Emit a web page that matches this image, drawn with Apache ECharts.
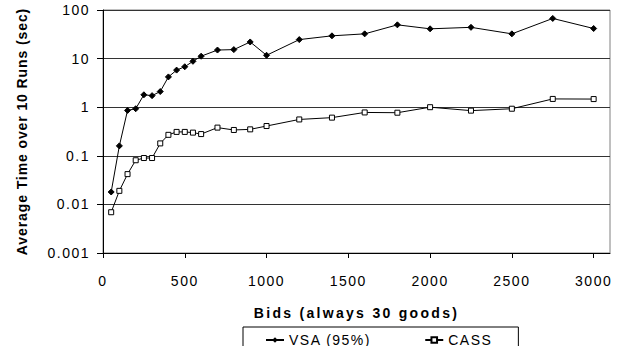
<!DOCTYPE html>
<html>
<head>
<meta charset="utf-8">
<script src="https://cdn.jsdelivr.net/npm/echarts@6/dist/echarts.min.js"></script>
<style>
html,body{margin:0;padding:0;background:#fff;}
#chart{width:621px;height:346px;}
</style>
</head>
<body>
<div id="chart"></div>
<script>
const bids = [50,100,150,200,250,300,350,400,450,500,550,600,700,800,900,1000,1200,1400,1600,1800,2000,2250,2500,2750,3000];
const vsa  = [0.018,0.16,0.86,0.93,1.8,1.73,2.1,4.2,5.8,6.8,8.8,11.2,15,15.3,22,11.7,24.6,29.4,32.3,49.5,41,44,32.3,67,41.6];
const cass = [0.0069,0.019,0.042,0.081,0.09,0.09,0.18,0.27,0.31,0.31,0.30,0.28,0.38,0.34,0.35,0.41,0.56,0.61,0.78,0.77,1.0,0.85,0.93,1.48,1.47];
const xTicks = [0,500,1000,1500,2000,2500,3000];
const yTickLabels = ['0.001','0.01','0.1','1','10','100'];
const seriesNames = ['VSA (95%)','CASS'];
const xTitle = 'Bids (always 30 goods)';
const yTitle = 'Average Time over 10 Runs (sec)';

const FONT = '"Liberation Sans", Arial, sans-serif';
const chart = echarts.init(document.getElementById('chart'), null, {renderer:'svg'});
function pairs(ys){ return bids.map((b,i)=>[b, ys[i]]); }

chart.setOption({
  animation:false,
  backgroundColor:'#fff',
  textStyle:{fontFamily:FONT},
  grid:{left:103, right:11, top:10, bottom:93, show:true, borderColor:'#808080', borderWidth:1, outerBoundsMode:'none', containLabel:false},
  legend:{
    left:243, top:327,
    orient:'horizontal',
    itemWidth:18, itemHeight:7, itemGap:66,
    padding:[6,32,6,22],
    borderColor:'#000', borderWidth:1, borderRadius:0,
    textStyle:{color:'#000', fontSize:14, fontFamily:FONT},
    data:seriesNames
  },
  xAxis:{
    type:'value', min:0, max:3100, interval:500,
    name:xTitle, nameLocation:'middle', nameGap:53,
    nameTextStyle:{color:'#000', fontWeight:'bold', fontSize:14, fontFamily:FONT},
    axisLine:{show:true, lineStyle:{color:'#000', width:1}},
    axisTick:{show:true, inside:false, length:5, lineStyle:{color:'#000'}, customValues:xTicks},
    axisLabel:{color:'#000', fontSize:14, margin:21, fontFamily:FONT, customValues:xTicks,
      formatter:function(v){ return String(v); }},
    splitLine:{show:false}
  },
  yAxis:{
    type:'log', logBase:10, min:0.001, max:100,
    name:yTitle, nameLocation:'middle', nameGap:74, nameRotate:90,
    nameTextStyle:{color:'#000', fontWeight:'bold', fontSize:14, fontFamily:FONT},
    axisLine:{show:true, lineStyle:{color:'#000', width:1}},
    axisTick:{show:true, inside:false, length:6, lineStyle:{color:'#000'}},
    axisLabel:{color:'#000', fontSize:14, margin:13, fontFamily:FONT,
      formatter:function(v){ const i = Math.round(Math.log10(v))+3; return yTickLabels[i] !== undefined ? yTickLabels[i] : ''; }},
    splitLine:{show:true, lineStyle:{color:'#333', width:1}}
  },
  series:[
    {name:seriesNames[0], type:'line', data:pairs(vsa), symbol:'diamond', symbolSize:6,
     itemStyle:{color:'#000', borderColor:'#000'}, lineStyle:{color:'#000', width:1}},
    {name:seriesNames[1], type:'line', data:pairs(cass), symbol:'rect', symbolSize:5,
     itemStyle:{color:'#fff', borderColor:'#000', borderWidth:1}, lineStyle:{color:'#000', width:1}}
  ]
});

function spacing(){
  document.querySelectorAll('#chart svg text').forEach(function(t){
    const s = t.textContent;
    let ls = 1.5;
    if (s === xTitle) ls = 2.3;
    else if (s === yTitle) ls = 0.9;
    t.setAttribute('letter-spacing', ls + 'px');
  });
}
spacing();
chart.on('finished', spacing);
</script>
</body>
</html>
